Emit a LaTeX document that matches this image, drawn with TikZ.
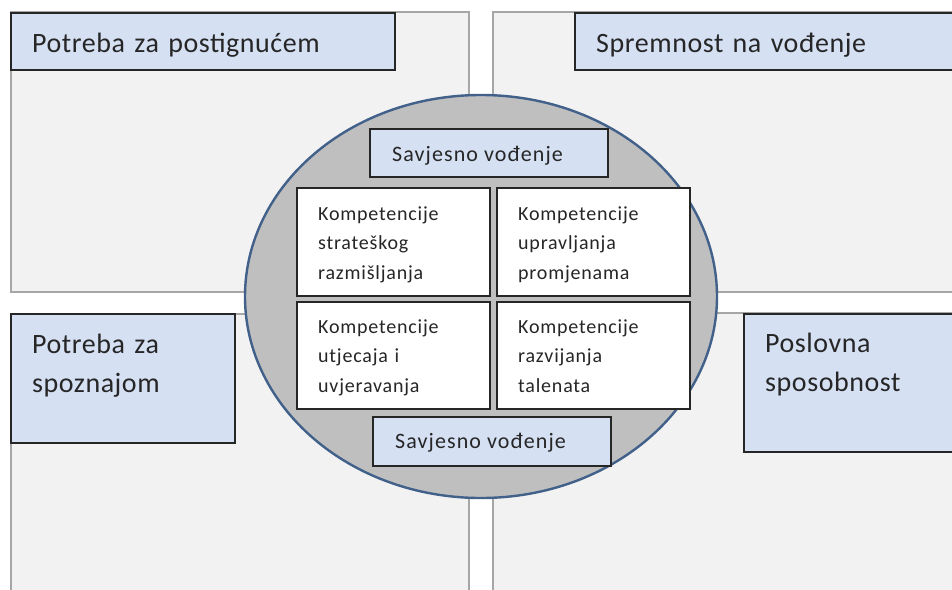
\documentclass[tikz,border=0pt]{standalone}
\usepackage{fontspec}
\setmainfont{Carlito}
\newfontfamily\naslovfont[LetterSpace=2]{Carlito}
\newfontfamily\srednjifont[LetterSpace=5]{Carlito}
\newfontfamily\malifont[LetterSpace=4]{Carlito}
\usetikzlibrary{positioning,shapes.geometric}

\definecolor{kvsiva}{HTML}{F2F2F2}
\definecolor{rubsiva}{HTML}{A6A6A6}
\definecolor{plava}{HTML}{D5E0F3}
\definecolor{tamna}{HTML}{262626}
\definecolor{elsiva}{HTML}{BFBFBF}
\definecolor{obrub}{HTML}{41608A}

\tikzset{
    kvadrant/.style={draw=rubsiva, line width=1.2pt, fill=kvsiva, inner sep=0pt, outer sep=0pt},
    naslov/.style={draw=tamna, line width=1.4pt, fill=plava, inner sep=0pt, outer sep=0pt},
    kompetencija/.style={draw=tamna, line width=1.4pt, fill=white, inner sep=0pt, outer sep=0pt,
        minimum width=193, minimum height=108},
    velikitekst/.style={anchor=base west, inner sep=0pt, text=tamna, align=left,
        text width=200, font=\naslovfont\fontsize{28}{39}\selectfont},
    srednjitekst/.style={anchor=base west, inner sep=0pt, text=tamna,
        font=\srednjifont\fontsize{22}{26}\selectfont},
    malitekst/.style={anchor=base west, inner sep=0pt, text=tamna, align=left,
        text width=160, font=\malifont\fontsize{20}{29.5}\selectfont},
}

\begin{document}
\begin{tikzpicture}[x=1pt,y=-1pt]
    \useasboundingbox (0,0) rectangle (952,589);
    \clip (0,0) rectangle (952,589);

    % Kvadranti
    \node[kvadrant, minimum width=458, minimum height=280] (kvGL) at (240,152) {};
    \node[kvadrant, minimum width=467, minimum height=280] (kvGD) at (726.5,152) {};
    \node[kvadrant, minimum width=458, minimum height=286] (kvDL) at (240,457) {};
    \node[kvadrant, minimum width=467, minimum height=287] (kvDD) at (726.5,456.5) {};

    % Naslovi kvadranata
    \node[naslov, minimum width=384, minimum height=57] (nGL) at (203,41.5) {};
    \node[naslov, minimum width=385, minimum height=57] (nGD) at (767.5,41.5) {};
    \node[naslov, minimum width=224, minimum height=129] (nDL) at (123,378.5) {};
    \node[naslov, minimum width=216, minimum height=138] (nDD) at (852,383) {};

    \node[velikitekst, text width=340] (tGL) at (32,52) {Potreba za postignućem};
    \node[velikitekst, text width=340] (tGD) at (596,52) {Spremnost na vođenje};
    \node[velikitekst] (tDL) at (32,353) {Potreba za\\spoznajom};
    \node[velikitekst] (tDD) at (765,352) {Poslovna\\sposobnost};

    % Jezgra
    \node[ellipse, draw=obrub, fill=elsiva, line width=2.4pt, inner sep=0pt,
        minimum width=472, minimum height=403] (jezgra) at (481,296.5) {};

    % Savjesno vodjenje
    \node[naslov, minimum width=238, minimum height=48] (svGore) at (489,153) {};
    \node[naslov, minimum width=238, minimum height=49] (svDolje) at (492,441.5) {};
    \node[srednjitekst] (tsvGore) at (392,161) {Savjesno vođenje};
    \node[srednjitekst] (tsvDolje) at (395,448) {Savjesno vođenje};

    % Kompetencije
    \node[kompetencija] (kGL) at (393.5,242) {};
    \node[kompetencija] (kGD) at (593.5,242) {};
    \node[kompetencija, minimum height=107] (kDL) at (393.5,355.5) {};
    \node[kompetencija, minimum height=107] (kDD) at (593.5,355.5) {};

    \node[malitekst] (tkGL) at (318,220) {Kompetencije\\strateškog\\razmišljanja};
    \node[malitekst] (tkGD) at (518,220) {Kompetencije\\upravljanja\\promjenama};
    \node[malitekst] (tkDL) at (318,333) {Kompetencije\\utjecaja i\\uvjeravanja};
    \node[malitekst] (tkDD) at (518,333) {Kompetencije\\razvijanja\\talenata};
\end{tikzpicture}
\end{document}
